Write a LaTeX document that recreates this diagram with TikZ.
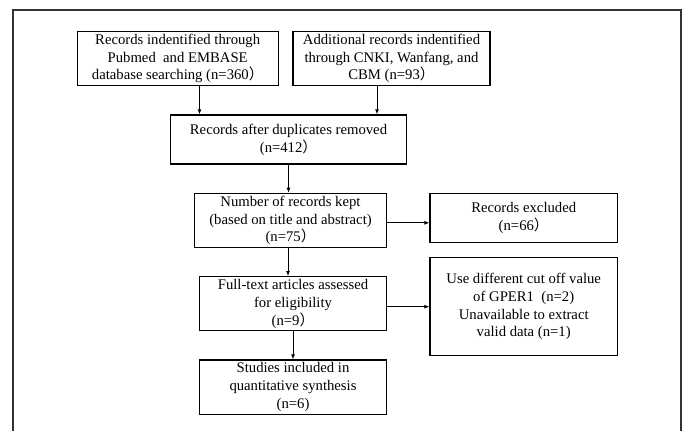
\documentclass[tikz,border=0pt]{standalone}
\usepackage{fontspec}
\setmainfont{Liberation Serif}
\newfontfamily\cjk{Noto Sans CJK SC}
\usepackage{tikz}
\usetikzlibrary{arrows.meta,calc}
\newcommand{\rp}{{\cjk ）}}

\begin{document}
\begin{tikzpicture}[
  x=1pt, y=-1pt,
  box/.style={draw=black, fill=white, line width=1.3pt, align=center, inner sep=0pt,
    font=\fontsize{14.7}{17.8}\selectfont},
  arrow/.style={-{Latex[length=5pt,width=4pt]}, line width=0.9pt, color=black},
  frame/.style={draw=black!80, line width=2pt}
]
\useasboundingbox (0,0) rectangle (684,431);
\draw[frame] (13.3,431) -- (13.3,9.5) -- (681,9.5) -- (681,431);

\node[box, minimum width=201, minimum height=54] (b1) at (177.7,58.6) {Records indentified through\\Pubmed\ \ and EMBASE\\database searching (n=360\rp};
\node[box, minimum width=197, minimum height=54] (b2) at (391.5,58.4) {Additional records indentified\\through CNKI, Wanfang, and\\CBM (n=93\rp};

\node[box, minimum width=236, minimum height=49] (b3) at (288.5,139.5) {Records after duplicates removed\\(n=412\rp};

\node[box, minimum width=192.4, minimum height=54.2] (b4) at (290.5,220.4) {Number of records kept\\(based on title and abstract)\\(n=75\rp};
\node[box, minimum width=187.3, minimum height=49.4] (b5) at (523.7,218) {Records excluded\\(n=66\rp};

\node[box, minimum width=187.3, minimum height=54] (b6) at (293,303.7) {Full-text articles assessed\\for eligibility\\(n=9\rp};
\node[box, minimum width=187.3, minimum height=98.4] (b7) at (523.7,306.5) {Use different cut off value\\of GPER1\ \ (n=2)\\Unavailable to extract\\valid data (n=1)};

\node[box, minimum width=187.3, minimum height=54.3] (b8) at (293,387.2) {Studies included in\\quantitative synthesis\\(n=6)};

\draw[arrow] ([xshift=21.8]b1.south) -- ([xshift=21.8]b1.south |- b3.north);
\draw[arrow] ([xshift=-14.5]b2.south) -- ([xshift=-14.5]b2.south |- b3.north);
\draw[arrow] (b3.south) -- (b3.south |- b4.north);
\draw[arrow] ([xshift=-2.5]b4.south) -- ([xshift=-2.5]b4.south |- b6.north);
\draw[arrow] ([yshift=-2.4]b4.east) -- ([yshift=-2.4]b4.east -| b5.west);
\draw[arrow] ([yshift=-3]b6.east) -- ([yshift=-3]b6.east -| b7.west);
\draw[arrow] (b6.south) -- (b8.north);
\end{tikzpicture}
\end{document}
